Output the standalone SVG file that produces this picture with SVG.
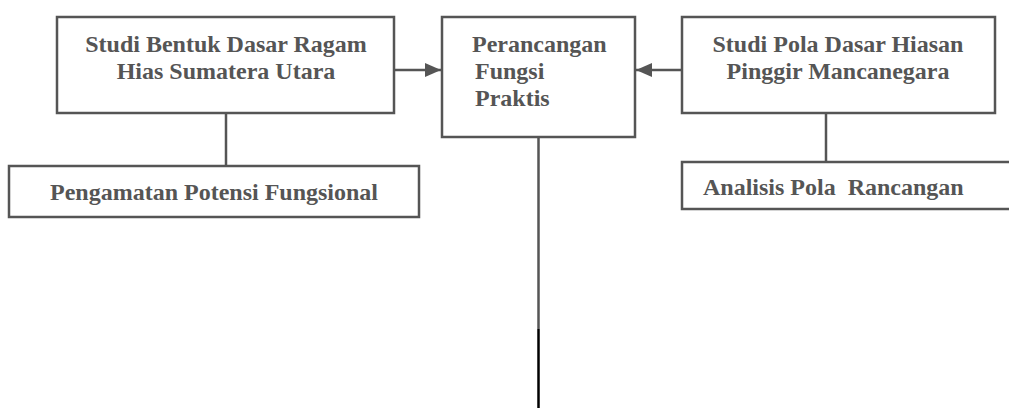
<svg xmlns="http://www.w3.org/2000/svg" width="1009" height="408" viewBox="0 0 1009 408">
<style>
.box{fill:#fff;stroke:#555;stroke-width:2.5}
.t{font-family:'Liberation Serif','DejaVu Serif','Times New Roman',serif;font-weight:bold;font-size:24px;fill:#555}
.c{stroke:#555;stroke-width:2.5;fill:none}
</style>
<defs>
<marker id="ah" markerUnits="userSpaceOnUse" markerWidth="16" markerHeight="14" refX="16" refY="7" orient="auto">
<path d="M0,0 L16,7 L0,14 Z" fill="#555"/>
</marker>
</defs>
<rect width="1009" height="408" fill="#fff"/>
<g id="connectors">
<line class="c" x1="394" y1="70" x2="441" y2="70" marker-end="url(#ah)"/>
<line class="c" x1="682" y1="70" x2="636" y2="70" marker-end="url(#ah)"/>
<line class="c" x1="226" y1="113" x2="226" y2="166"/>
<line class="c" x1="826" y1="113" x2="826" y2="162"/>
<line class="c" x1="538.5" y1="137" x2="538.5" y2="329"/>
<line x1="538.5" y1="329" x2="538.5" y2="408" stroke="#000" stroke-width="2.5"/>
</g>
<g id="n1">
<rect class="box" x="57" y="17" width="337" height="96"/>
<text class="t" x="226" y="52" text-anchor="middle">Studi Bentuk Dasar Ragam</text>
<text class="t" x="226" y="79" text-anchor="middle">Hias Sumatera Utara</text>
</g>
<g id="n2">
<rect class="box" x="442" y="17" width="193" height="120"/>
<text class="t" x="472" y="52">Perancangan</text>
<text class="t" x="475" y="79">Fungsi</text>
<text class="t" x="475" y="106">Praktis</text>
</g>
<g id="n3">
<rect class="box" x="682" y="17" width="313" height="96"/>
<text class="t" x="838" y="52" text-anchor="middle">Studi Pola Dasar Hiasan</text>
<text class="t" x="838" y="79" text-anchor="middle">Pinggir Mancanegara</text>
</g>
<g id="n4">
<rect class="box" x="9" y="166" width="410" height="51"/>
<text class="t" x="214" y="200" text-anchor="middle">Pengamatan Potensi Fungsional</text>
</g>
<g id="n5">
<rect class="box" x="682" y="162" width="340" height="47"/>
<text class="t" x="703" y="195" xml:space="preserve">Analisis Pola  Rancangan</text>
</g>
</svg>
